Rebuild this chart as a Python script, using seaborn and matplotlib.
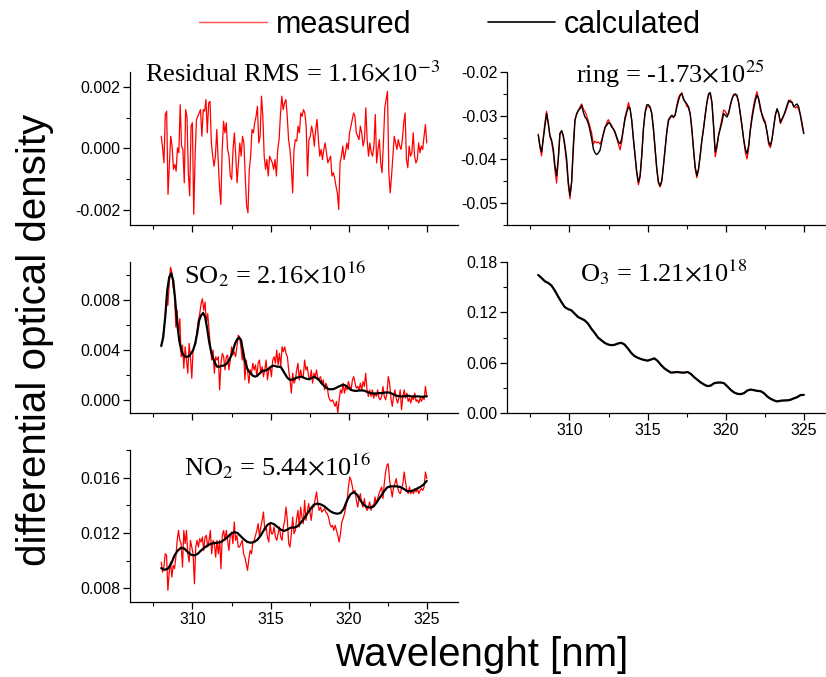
import numpy as np
import pandas as pd
import matplotlib
matplotlib.use('Agg')
import matplotlib.pyplot as plt
from matplotlib.ticker import MultipleLocator, FormatStrFormatter
from matplotlib.lines import Line2D
import seaborn as sns

# ---- data, units of 1e-3 -------------------------------------------------- #
residual = [0.40, 0.02, -0.47, 1.11, 1.22, -1.50, -0.58, 0.40, 0.08, -0.68, -0.52, -0.74, 0.02, -0.14,
            1.43, 0.08, -0.03, -1.12, 1.27, 1.05, -0.79, -1.55, 0.73, 0.84, -2.15, -0.25, 0.95, 1.05,
            1.16, 1.27, 0.40, 1.27, 1.22, 1.60, 0.51, 1.49, 1.54, 0.18, -0.25, -0.58, -0.25, 0.62,
            -0.36, -1.23, -1.83, -0.03, 0.89, 0.51, 0.84, -0.03, -0.25, -0.90, -1.01, -0.03, 0.51,
            -0.25, -1.12, -0.47, 0.18, -0.25, 0.40, 0.18, -0.90, -1.88, -2.10, -0.68, -0.25, 0.62,
            0.51, 0.84, 1.05, 1.38, 0.18, 0.40, 1.71, 1.05, -0.25, -0.68, -0.36, -0.90, -0.25, -0.36,
            -0.47, -0.68, -0.36, -0.90, -0.03, 0.29, 1.11, 1.71, 1.27, 1.49, 1.60, 1.05, 0.29, -0.03,
            -0.58, -1.45, -0.03, 0.29, 0.24, 0.73, 0.51, 1.16, 1.05, 1.27, 1.16, 0.73, -0.90, 0.29,
            0.40, 0.73, 0.51, 0.08, 0.62, 0.95, 0.29, -0.25, -0.03, -0.36, -0.03, 0.18, -0.14, -0.47,
            -0.36, -0.25, -0.90, -0.79, -0.96, -1.23, -1.45, -1.99, -0.47, -0.25, 0.08, -0.36, -0.14,
            0.18, -0.03, 0.51, 0.73, 0.95, 1.16, 1.05, 0.51, 0.40, 0.29, 0.73, 0.51, 0.08, 0.29, 1.33,
            0.29, -0.25, 0.18, -0.14, -0.25, 0.08, 1.11, -0.47, -0.03, 0.29, -0.47, -0.79, 0.18, 1.33,
            1.60, 1.87, -0.79, -1.45, -0.90, -0.25, 0.40, 0.18, -0.03, 0.29, 0.08, -0.03, 0.29, 0.84,
            1.16, -0.36, -0.63, 0.08, -0.25, -0.14, 0.51, -0.25, -0.47, -0.36, 0.18, -0.14, 0.08,
            -0.03, 0.40, 0.78, 0.18]

ring_calc = [-34.4, -36.8, -38.3, -35.3, -32.2, -29.5, -31.8, -34.5, -35.6, -37.6, -41.4, -43.7, -39.8,
             -34.1, -33.4, -34.5, -36.8, -39.8, -45.2, -48.2, -45.2, -37.6, -31.1, -29.5, -28.8, -28.4,
             -27.6, -29.2, -30.3, -30.8, -31.8, -33.4, -35.3, -37.6, -38.5, -38.9, -38.5, -37.9, -36.0,
             -34.1, -32.6, -32.2, -31.6, -31.8, -32.6, -33.0, -33.7, -34.9, -36.0, -36.4, -35.3, -33.0,
             -30.7, -29.2, -28.0, -28.4, -31.1, -35.3, -39.1, -42.9, -45.2, -43.7, -39.1, -33.0, -29.2,
             -27.5, -27.5, -28.0, -29.5, -33.0, -37.6, -42.1, -45.2, -46.0, -44.8, -41.4, -37.6, -33.7,
             -31.1, -30.3, -29.9, -30.3, -29.9, -28.0, -26.5, -25.3, -25.0, -26.1, -26.9, -27.3, -28.0,
             -29.5, -33.0, -37.6, -41.8, -43.7, -42.1, -39.1, -35.6, -33.0, -29.9, -26.9, -25.0, -24.7,
             -26.9, -32.2, -38.3, -36.8, -34.5, -33.0, -31.5, -29.5, -29.9, -30.3, -29.5, -27.6, -26.1,
             -25.3, -25.0, -25.3, -26.9, -29.5, -32.2, -35.3, -37.6, -38.7, -36.8, -33.4, -30.7, -28.4,
             -26.5, -25.3, -26.1, -28.0, -29.9, -31.1, -31.8, -33.7, -36.0, -36.8, -35.3, -32.6, -29.9,
             -28.4, -29.5, -31.5, -30.7, -29.9, -28.8, -27.6, -26.5, -26.9, -26.9, -28.0, -27.6, -27.3,
             -28.0, -29.9, -32.2, -34.1]

ring_meas = [-34.2, -37.2, -39.2, -35.0, -31.5, -29.0, -31.5, -34.8, -36.0, -38.5, -42.5, -45.4, -40.2,
             -34.0, -33.6, -34.9, -37.5, -41.0, -45.8, -49.0, -45.0, -36.5, -30.8, -29.8, -28.8, -28.0,
             -27.3, -28.5, -29.0, -30.0, -31.2, -32.5, -34.0, -36.5, -35.8, -36.2, -36.0, -36.5, -35.5,
             -34.3, -32.9, -31.6, -30.9, -31.7, -32.2, -33.2, -34.0, -35.2, -36.5, -37.8, -36.0, -32.8,
             -30.2, -28.8, -27.0, -28.3, -31.2, -35.6, -39.5, -43.3, -45.8, -44.0, -39.0, -32.8, -29.4,
             -28.0, -27.9, -28.2, -29.6, -33.3, -38.0, -42.5, -45.5, -46.3, -45.0, -41.2, -37.2, -33.5,
             -30.8, -30.6, -30.0, -30.5, -29.6, -27.6, -25.8, -25.2, -24.7, -26.4, -26.7, -27.9, -28.2,
             -29.8, -33.4, -38.0, -42.2, -44.2, -42.3, -39.0, -35.5, -32.7, -29.6, -27.1, -25.3, -25.0,
             -27.1, -32.8, -39.4, -37.3, -34.3, -32.6, -30.6, -28.7, -29.0, -29.8, -29.3, -27.8, -26.3,
             -25.1, -25.3, -25.6, -27.0, -29.6, -32.6, -35.8, -38.4, -39.9, -37.5, -33.0, -29.9, -27.6,
             -25.8, -24.5, -26.4, -28.7, -29.6, -30.6, -31.4, -33.9, -36.6, -37.3, -35.5, -32.4, -29.8,
             -28.6, -29.4, -31.8, -31.0, -30.0, -29.2, -28.0, -26.8, -26.4, -27.0, -27.8, -28.2, -27.9,
             -28.6, -29.9, -31.6, -34.0]

so2_calc = [4.32, 5.05, 6.63, 8.74, 9.79, 10.1, 9.53, 7.95, 6.1, 4.79, 4.0, 3.61, 3.47, 3.47, 3.53, 3.74,
            4.0, 4.53, 5.32, 6.37, 6.76, 6.95, 6.63, 5.71, 4.66, 3.87, 3.34, 2.95, 2.68, 2.68, 2.74, 2.76,
            2.82, 2.95, 3.21, 3.53, 4.0, 4.53, 4.84, 5.0, 4.79, 3.87, 3.08, 2.55, 2.29, 2.11, 1.95, 1.89,
            1.95, 2.11, 2.26, 2.37, 2.37, 2.42, 2.55, 2.68, 2.76, 2.74, 2.68, 2.68, 2.63, 2.37, 2.11, 1.84,
            1.68, 1.63, 1.68, 1.74, 1.82, 1.84, 1.89, 1.84, 1.76, 1.71, 1.68, 1.76, 1.84, 1.84, 1.76, 1.63,
            1.42, 1.24, 1.11, 0.97, 0.89, 0.89, 0.89, 0.95, 1.03, 1.11, 1.18, 1.24, 1.21, 1.11, 0.97, 0.84,
            0.79, 0.76, 0.76, 0.79, 0.79, 0.79, 0.76, 0.68, 0.63, 0.58, 0.55, 0.55, 0.55, 0.58, 0.58, 0.58,
            0.63, 0.63, 0.63, 0.58, 0.50, 0.42, 0.37, 0.34, 0.32, 0.32, 0.34, 0.37, 0.37, 0.32, 0.32, 0.32,
            0.32, 0.32, 0.29, 0.29, 0.32, 0.32]

so2_meas = [4.39, 4.66, 5.71, 6.63, 8.21, 7.55, 9.26, 10.58, 10.18, 9.0, 8.47, 5.84, 7.16, 5.32, 6.5,
            3.47, 4.39, 2.55, 4.26, 3.21, 2.16, 4.53, 3.47, 1.76, 4.0, 4.26, 4.53, 5.58, 6.37, 6.89, 7.68,
            8.08, 7.16, 7.82, 6.11, 6.89, 5.58, 4.26, 3.21, 4.0, 2.16, 3.47, 3.21, 3.47, 0.84, 2.95, 3.74,
            3.47, 2.42, 3.47, 3.61, 2.42, 3.21, 4.26, 3.61, 3.87, 3.47, 4.26, 5.18, 5.05, 4.26, 3.21, 4.0,
            1.63, 3.21, 2.42, 1.37, 2.42, 2.16, 2.95, 2.42, 2.82, 1.89, 2.95, 3.21, 2.16, 2.68, 1.89, 2.42,
            3.21, 1.63, 2.42, 2.68, 1.89, 3.21, 3.47, 2.95, 4.0, 2.82, 3.74, 2.68, 4.26, 3.87, 4.26, 3.74,
            3.47, 2.42, 1.63, 0.58, 2.16, 1.37, 1.63, 2.42, 2.95, 1.63, 2.42, 1.89, 1.89, 3.21, 2.42, 2.68,
            1.89, 1.63, 2.42, 1.37, 2.16, 1.89, 2.42, 1.63, 1.76, 1.89, 1.37, 1.63, 0.84, 1.37, 1.11, 0.32,
            0.05, -0.08, 0.05, -0.21, -0.47, -0.08, -1.0, 0.05, 0.84, 0.58, 1.37, 0.58, 1.11, 0.84, 1.5,
            1.11, 0.84, 1.63, 1.89, 1.37, 0.97, 1.11, 0.84, 1.37, 0.84, 1.5, 1.11, 2.16, 0.84, 0.32, 0.84,
            0.32, 0.84, 0.18, 0.58, 0.32, 0.84, 0.18, 0.05, 0.32, 1.11, 0.32, 0.05, 0.58, 1.89, 1.37, 0.18,
            -0.47, 0.32, 0.84, 0.18, -0.21, 0.18, 0.84, -0.74, 0.32, 0.84, 0.18, 0.58, -0.08, 0.18, -0.21,
            0.32, 0.05, 0.58, -0.08, 0.05, -0.21, 0.18, -0.08, 0.32, 0.05, 1.11, 0.32]

o3_calc = [164.6, 161.0, 157.1, 155.1, 152.0, 146.0, 138.9, 132.2, 126.3, 123.9, 122.4, 118.4, 114.5,
           112.5, 110.5, 106.6, 100.6, 95.5, 90.0, 86.8, 83.7, 81.7, 80.9, 81.3, 82.9, 83.7, 81.7, 77.0,
           71.8, 67.9, 65.9, 64.3, 63.2, 62.4, 63.9, 65.1, 62.0, 57.2, 53.3, 50.5, 48.2, 48.5, 48.9, 48.2,
           48.2, 48.9, 46.6, 42.6, 39.5, 36.3, 33.9, 32.0, 32.8, 35.5, 36.3, 36.3, 35.5, 31.6, 27.6, 24.5,
           22.9, 22.5, 23.7, 26.8, 28.0, 27.2, 26.4, 26.0, 23.7, 19.7, 17.0, 15.0, 13.8, 14.6, 15.0, 15.0,
           15.8, 17.4, 18.9, 21.3, 21.7]

o3_meas = [164.4, 161.3, 157.0, 155.4, 151.6, 146.3, 138.6, 132.5, 126.0, 124.2, 122.1, 118.7, 114.2,
           112.8, 110.2, 106.9, 100.3, 95.8, 89.7, 87.1, 83.4, 82.0, 80.6, 81.6, 82.6, 84.0, 81.4, 77.3,
           71.5, 68.2, 65.6, 64.6, 62.9, 62.7, 63.6, 65.4, 61.7, 57.5, 53.0, 50.8, 47.9, 48.8, 48.6, 48.5,
           47.9, 49.2, 46.3, 42.9, 39.2, 36.6, 33.6, 32.3, 32.5, 35.8, 36.0, 36.6, 35.2, 31.9, 27.3, 24.8,
           22.6, 22.8, 23.4, 27.1, 27.7, 27.5, 26.1, 26.3, 23.4, 20.0, 16.7, 15.3, 13.5, 14.9, 14.7, 15.3,
           15.5, 17.7, 18.6, 21.6, 21.4]

no2_calc = [9.45, 9.33, 9.41, 9.77, 10.37, 10.73, 10.93, 10.86, 10.61, 10.42, 10.37, 10.49, 10.73,
            10.93, 11.1, 11.22, 11.27, 11.29, 11.34, 11.51, 11.7, 11.94, 12.06, 11.99, 11.75, 11.51,
            11.34, 11.29, 11.34, 11.51, 11.82, 12.24, 12.58, 12.72, 12.63, 12.43, 12.24, 12.14, 12.24,
            12.38, 12.38, 12.47, 12.72, 13.03, 13.39, 13.75, 14.04, 14.12, 14.07, 13.95, 13.75, 13.56,
            13.44, 13.39, 13.44, 13.75, 14.36, 14.79, 14.96, 14.77, 14.36, 14.04, 13.87, 13.83, 13.92,
            14.24, 14.6, 14.96, 15.28, 15.37, 15.37, 15.37, 15.32, 15.2, 15.03, 15.01, 15.08, 15.2,
            15.32, 15.49, 15.76]

no2_meas = [9.89, 9.16, 9.53, 10.49, 10.37, 7.84, 9.16, 9.89, 8.8, 9.65, 9.41, 10.25, 11.46, 12.18,
            11.46, 11.22, 9.53, 12.18, 11.22, 12.18, 10.49, 9.89, 11.46, 10.98, 10.49, 8.32, 10.98, 11.46,
            10.98, 11.58, 11.34, 11.7, 10.73, 11.7, 11.82, 10.98, 11.46, 12.18, 10.49, 11.46, 11.22,
            10.25, 11.46, 10.49, 11.46, 9.41, 11.82, 12.18, 11.46, 12.18, 11.46, 10.73, 11.82, 12.06,
            11.22, 12.79, 11.46, 11.82, 10.98, 10.98, 11.22, 11.46, 10.49, 10.25, 9.77, 9.29, 10.13,
            10.73, 10.49, 11.34, 11.46, 11.82, 12.18, 12.67, 11.7, 12.43, 12.91, 13.51, 12.18, 12.43,
            11.7, 11.34, 12.67, 11.94, 11.94, 12.43, 11.7, 11.46, 11.94, 12.43, 11.7, 11.46, 12.43, 12.91,
            13.87, 12.91, 11.22, 10.98, 11.94, 13.15, 11.94, 12.18, 13.03, 13.63, 12.43, 13.87, 13.15,
            12.67, 14.36, 12.91, 13.51, 14.12, 13.51, 12.91, 13.87, 13.87, 14.48, 14.96, 14.12, 13.63,
            13.87, 13.51, 13.63, 13.75, 13.51, 13.39, 13.15, 12.67, 12.43, 12.55, 12.18, 12.55, 12.18,
            11.82, 11.34, 11.94, 12.79, 13.03, 13.39, 13.87, 14.36, 15.32, 16.05, 15.81, 15.32, 14.84,
            15.08, 14.36, 13.87, 14.48, 14.84, 14.12, 13.87, 14.48, 13.87, 13.63, 13.87, 14.24, 13.63,
            14.0, 13.87, 14.6, 14.12, 14.48, 14.84, 15.08, 15.32, 14.48, 15.57, 16.41, 16.89, 17.01,
            15.81, 15.2, 14.6, 15.32, 15.57, 15.93, 15.32, 14.96, 14.84, 15.2, 15.57, 16.41, 15.69, 15.08,
            14.84, 15.32, 14.84, 15.08, 14.84, 15.2, 14.96, 15.2, 14.84, 15.08, 15.2, 15.08, 15.32, 16.41,
            15.93]

labels = [r'Residual RMS = 1.16$\times$10$^{-3}$',
          r'ring = -1.73$\times$10$^{25}$',
          r'SO$_2$ = 2.16$\times$10$^{16}$',
          r'O$_3$ = 1.21$\times$10$^{18}$',
          r'NO$_2$ = 5.44$\times$10$^{16}$']

# ---- style ---------------------------------------------------------------- #
sns.set_style('ticks')
plt.rcParams['font.family'] = ['Liberation Sans', 'DejaVu Sans']
plt.rcParams['mathtext.fontset'] = 'stix'
plt.rcParams['axes.unicode_minus'] = False
for k in ('text.color', 'axes.labelcolor', 'xtick.color', 'ytick.color', 'axes.edgecolor'):
    plt.rcParams[k] = 'black'

W, H = 826, 677
fig = plt.figure(figsize=(W / 100, H / 100), dpi=100)


def box(left, top, right, bottom):
    return [left / W, 1 - bottom / H, (right - left) / W, (bottom - top) / H]


def series(vals, scale):
    v = np.array(vals) * scale
    return pd.DataFrame({'wl': np.linspace(308, 325, len(v)), 'val': v})


def draw(ax, meas, calc, scale, lw_calc):
    sns.lineplot(data=series(meas, scale), x='wl', y='val', ax=ax, color='#ff0000',
                 lw=0.9, estimator=None, sort=False)
    if calc is not None:
        sns.lineplot(data=series(calc, scale), x='wl', y='val', ax=ax, color='black',
                     lw=lw_calc, estimator=None, sort=False)


def style(ax, ylim, major, minor, fmt, xlabels):
    ax.set_xlim(306, 327)
    ax.set_ylim(*ylim)
    ax.xaxis.set_major_locator(MultipleLocator(5))
    ax.xaxis.set_minor_locator(MultipleLocator(2.5))
    ax.yaxis.set_major_locator(MultipleLocator(major))
    ax.yaxis.set_minor_locator(MultipleLocator(minor))
    ax.yaxis.set_major_formatter(FormatStrFormatter(fmt))
    ax.tick_params(which='major', direction='out', length=5, width=0.9, labelsize=11.5, pad=2,
                   colors='black')
    ax.tick_params(which='minor', direction='out', length=3, width=0.8, colors='black')
    if not xlabels:
        ax.tick_params(axis='x', labelbottom=False)
    ax.set_xlabel('')
    ax.set_ylabel('')
    sns.despine(ax=ax)
    for s in ('left', 'bottom'):
        ax.spines[s].set_linewidth(0.9)
        ax.spines[s].set_color('black')


ax1 = fig.add_axes(box(130, 72, 458, 225))
ax2 = fig.add_axes(box(507, 72, 835, 225))
ax3 = fig.add_axes(box(130, 262, 458, 413))
ax4 = fig.add_axes(box(507, 262, 835, 413))
ax5 = fig.add_axes(box(130, 450, 458, 602))

draw(ax1, residual, None, 1e-3, 1)
draw(ax2, ring_meas, ring_calc, 1e-3, 1.0)
draw(ax3, so2_meas, so2_calc, 1e-3, 1.6)
draw(ax4, o3_meas, o3_calc, 1e-3, 1.6)
draw(ax5, no2_meas, no2_calc, 1e-3, 1.6)

style(ax1, (-0.0025, 0.0025), 0.002, 0.001, '%.3f', False)
style(ax2, (-0.055, -0.02), 0.01, 0.005, '%.2f', False)
style(ax3, (-0.001, 0.011), 0.004, 0.002, '%.3f', False)
style(ax4, (0, 0.1801), 0.06, 0.03, '%.2f', True)
style(ax5, (0.007, 0.018), 0.004, 0.002, '%.3f', True)

# panel captions
for (cx, by), txt in zip([(293, 82), (670, 83), (275, 283), (664, 281), (277, 475)], labels):
    fig.text(cx / W, 1 - by / H, txt, ha='center', va='baseline', fontsize=19,
             family='Liberation Serif', color='black')

# legend
handles = [Line2D([], [], color='#ff5050', lw=1), Line2D([], [], color='black', lw=1.2)]
leg = fig.legend(handles, ['measured', 'calculated'], loc='center',
                 bbox_to_anchor=(0.545, 1 - 25 / H), ncol=2, frameon=False, fontsize=22,
                 handlelength=2.2, handletextpad=0.3, columnspacing=2.5)
for t in leg.get_texts():
    t.set_color('black')

fig.text(35 / W, 1 - 340 / H, 'differential optical density', rotation=90, ha='center',
         va='center', fontsize=29, color='black')
fig.text(482 / W, 1 - 655 / H, 'wavelenght [nm]', ha='center', va='center', fontsize=29,
         color='black')

fig.savefig('out.png', dpi=100)
